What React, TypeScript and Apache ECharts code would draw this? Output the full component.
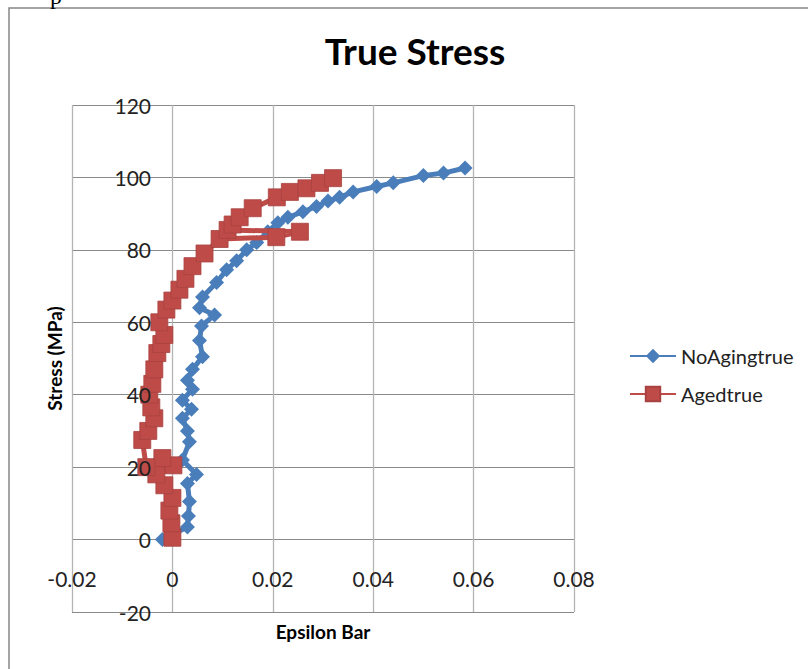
import React, { useEffect, useRef } from "react";
import * as echarts from "echarts";

const chartTitle = "True Stress";
const xAxisName = "Epsilon Bar";
const yAxisName = "Stress (MPa)";
const seriesNames = ["NoAgingtrue", "Agedtrue"];

// [strain, stress]
const noAgingTrue: [number, number][] = [
  [-0.002, 0], [0.003, 3.5], [0.0032, 6.5], [0.0034, 10.5], [0.003, 15.5],
  [0.0048, 18], [0.002, 22], [0.0034, 27], [0.003, 30], [0.002, 33.5],
  [0.0038, 36], [0.002, 38.5], [0.004, 41.5], [0.003, 44], [0.004, 47],
  [0.006, 50.5], [0.0054, 55], [0.0058, 59], [0.0084, 62], [0.0054, 64],
  [0.006, 67], [0.0088, 71], [0.0108, 74.5], [0.0128, 77], [0.0148, 80],
  [0.0168, 82], [0.019, 85], [0.021, 87.5], [0.023, 89], [0.026, 90.5],
  [0.0287, 92], [0.031, 93.5], [0.0333, 94.5], [0.036, 96], [0.0407, 97.5],
  [0.044, 98.5], [0.05, 100.5], [0.054, 101.2], [0.0583, 102.6],
];

const agedTrue: [number, number][] = [
  [0, 0.5], [-0.0002, 4.5], [-0.0006, 8], [0, 11.5], [-0.0016, 15],
  [-0.0032, 18], [0.0002, 20.5], [-0.002, 22.5], [-0.0052, 20], [-0.006, 27.5],
  [-0.0048, 30], [-0.0036, 33.5], [-0.0042, 36.5], [-0.0046, 40], [-0.004, 43],
  [-0.0036, 47], [-0.003, 51.5], [-0.0022, 54], [-0.0016, 56.5], [-0.0026, 60],
  [-0.0012, 63.5], [0, 66], [0.0014, 69], [0.0026, 72], [0.004, 75.5],
  [0.0064, 79], [0.0094, 83], [0.0207, 83.5], [0.0254, 85], [0.011, 85.5],
  [0.012, 87], [0.0134, 89], [0.016, 91.5], [0.0208, 94.5], [0.0234, 96],
  [0.0267, 97], [0.0294, 98.5], [0.032, 99.8],
];

const xMin = -0.02, xMax = 0.08, xStep = 0.02;
const yMin = -20, yMax = 120, yStep = 20;

const FONT = "Lato";

export default function App() {
  const ref = useRef<HTMLDivElement>(null);
  useEffect(() => {
    if (!ref.current) return;
    const chart = echarts.init(ref.current, null, { renderer: "svg" });
    chart.setOption({
      animation: false,
      backgroundColor: "#ffffff",
      graphic: [
        {
          type: "rect",
          z: -10,
          silent: true,
          shape: { x: 9, y: 8, width: 840, height: 720 },
          style: { fill: "none", stroke: "#868686", lineWidth: 1.5 },
        },
        {
          type: "text",
          x: 50,
          y: 8,
          silent: true,
          style: { text: "p", font: '24px "Liberation Serif"', fill: "#000", verticalAlign: "bottom" },
        },
      ],
      title: {
        text: chartTitle,
        left: 410,
        top: 27,
        textAlign: "center",
        textStyle: { fontFamily: FONT, fontWeight: "bold", fontSize: 37, color: "#000" },
      },
      legend: {
        orient: "vertical",
        left: 624,
        top: 341,
        itemWidth: 46,
        itemHeight: 18,
        itemGap: 18,
        textStyle: { fontFamily: FONT, fontSize: 20, color: "#222" },
        data: seriesNames,
      },
      grid: {
        left: 72,
        right: 234,
        top: 105,
        bottom: 57,
        containLabel: false,
        outerBoundsMode: "none",
      },
      xAxis: {
        type: "value",
        min: xMin,
        max: xMax,
        interval: xStep,
        name: xAxisName,
        nameLocation: "middle",
        nameGap: 10,
        nameTextStyle: { fontFamily: FONT, fontWeight: "bold", fontSize: 19, color: "#000", verticalAlign: "top" },
        axisLine: { show: false, onZero: false },
        axisTick: { show: false },
        axisLabel: { margin: -44, fontFamily: FONT, fontSize: 21, color: "#222", verticalAlign: "top" },
        splitLine: { show: true, lineStyle: { color: "#b4b4b4", width: 1.3 } },
      },
      yAxis: [
        {
          type: "value",
          min: yMin,
          max: yMax,
          interval: yStep,
          axisLine: { show: false, onZero: false },
          axisTick: { show: false },
          axisLabel: { show: false },
          splitLine: { show: true, lineStyle: { color: "#8a8a8a", width: 1.2 } },
        },
        {
          type: "value",
          position: "left",
          min: yMin,
          max: yMax,
          interval: yStep,
          z: 10,
          name: yAxisName,
          nameLocation: "middle",
          nameGap: 2,
          nameTextStyle: { fontFamily: FONT, fontWeight: "bold", fontSize: 19, color: "#000", verticalAlign: "bottom" },
          axisLine: { show: false, onZero: false },
          axisTick: { show: false },
          axisLabel: { margin: -79, fontFamily: FONT, fontSize: 21, color: "#222", align: "right" },
          splitLine: { show: false },
        },
      ],
      series: [
        {
          name: seriesNames[0],
          type: "line",
          data: noAgingTrue,
          symbol: "diamond",
          symbolSize: 15,
          showAllSymbol: true,
          lineStyle: { color: "#4a7ebb", width: 5 },
          itemStyle: { color: "#4a7ebb" },
          z: 2,
        },
        {
          name: seriesNames[1],
          type: "line",
          data: agedTrue,
          symbol: "rect",
          symbolSize: 17,
          showAllSymbol: true,
          lineStyle: { color: "#be4b48", width: 5 },
          itemStyle: { color: "#be4b48", borderColor: "#a84240", borderWidth: 0.8 },
          z: 3,
        },
      ],
    });
    return () => chart.dispose();
  }, []);
  return (
    <div
      ref={ref}
      style={{ position: "fixed", left: 0, top: 0, width: 808, height: 669, background: "#fff" }}
    />
  );
}
